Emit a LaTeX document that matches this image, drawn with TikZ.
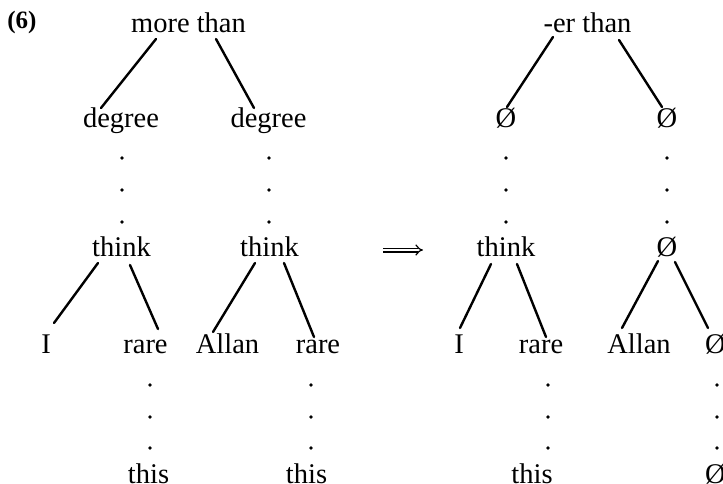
\documentclass[tikz,border=0pt]{standalone}
\usepackage{fontspec}
\setmainfont{Liberation Serif}
\usetikzlibrary{calc,arrows.meta}
\begin{document}
\begin{tikzpicture}[x=1pt,y=-1pt,
  word/.style={anchor=base,inner sep=0pt,font=\fontsize{28.5}{30}\selectfont},
  branch/.style={line width=2.4pt,line cap=round},
  dotmark/.style={fill=black}]
\useasboundingbox (0,0) rectangle (723,484);
% label
\node[word,font=\fontsize{25}{27}\selectfont\bfseries] (ex) at (22,29) {(6)};
% left tree
\node[word] (more) at (188.5,33) {more than};
\node[word] (deg1) at (121,128) {degree};
\node[word] (deg2) at (268.5,128) {degree};
\node[word] (thinkA) at (121.5,256) {think};
\node[word] (thinkB) at (269.5,256) {think};
\node[word] (iA) at (46,353) {I};
\node[word] (rareA) at (145.5,353) {rare};
\node[word] (allanA) at (227.5,353) {Allan};
\node[word] (rareB) at (318,353) {rare};
\node[word] (thisA) at (148.5,483) {this};
\node[word] (thisB) at (306.5,483) {this};
% arrow
\coordinate (arrS) at (383,250);
\coordinate (arrE) at (423,250);
\draw[double,double distance=2.6pt,line width=1.2pt,-{Implies}] (arrS) -- (arrE);
% right tree
\node[word] (er) at (587.5,33) {-er than};
\node[word] (z1) at (506,128) {Ø};
\node[word] (z2) at (667,128) {Ø};
\node[word] (thinkC) at (506,256) {think};
\node[word] (z3) at (667,256) {Ø};
\node[word] (iC) at (459,353) {I};
\node[word] (rareC) at (541,353) {rare};
\node[word] (allanC) at (639,353) {Allan};
\node[word] (z4) at (715.5,353) {Ø};
\node[word] (thisC) at (532,483) {this};
\node[word] (z5) at (715.5,483) {Ø};
% branches
\draw[branch] ($(more.base)+(-32.5,6)$) -- ($(deg1.base)+(-20,-20)$);
\draw[branch] ($(more.base)+(27.5,6)$) -- ($(deg2.base)+(-14.5,-20)$);
\draw[branch] ($(thinkA.base)+(-23.5,7)$) -- ($(iA.base)+(8,-30)$);
\draw[branch] ($(thinkA.base)+(8.5,9)$) -- ($(rareA.base)+(12.5,-24)$);
\draw[branch] ($(thinkB.base)+(-14.5,7)$) -- ($(allanA.base)+(-14.5,-21)$);
\draw[branch] ($(thinkB.base)+(14.5,7)$) -- ($(rareB.base)+(-4,-16)$);
\draw[branch] ($(er.base)+(-34.5,4)$) -- ($(z1.base)+(1,-21)$);
\draw[branch] ($(er.base)+(31.5,7)$) -- ($(z2.base)+(-5,-21)$);
\draw[branch] ($(thinkC.base)+(-15,8)$) -- ($(iC.base)+(1,-25)$);
\draw[branch] ($(thinkC.base)+(11,8)$) -- ($(rareC.base)+(5,-16)$);
\draw[branch] ($(z3.base)+(-9,5)$) -- ($(allanC.base)+(-17,-25)$);
\draw[branch] ($(z3.base)+(8,6)$) -- ($(z4.base)+(-7.5,-25)$);
% dotted links
\foreach \x in {122,269,506,667} {
  \foreach \y in {158,190,222} { \fill[dotmark] (\x,\y) circle (1.8); }
}
\foreach \x in {150,311,548,717} {
  \foreach \y in {385,417,448} { \fill[dotmark] (\x,\y) circle (1.8); }
}
\end{tikzpicture}
\end{document}
